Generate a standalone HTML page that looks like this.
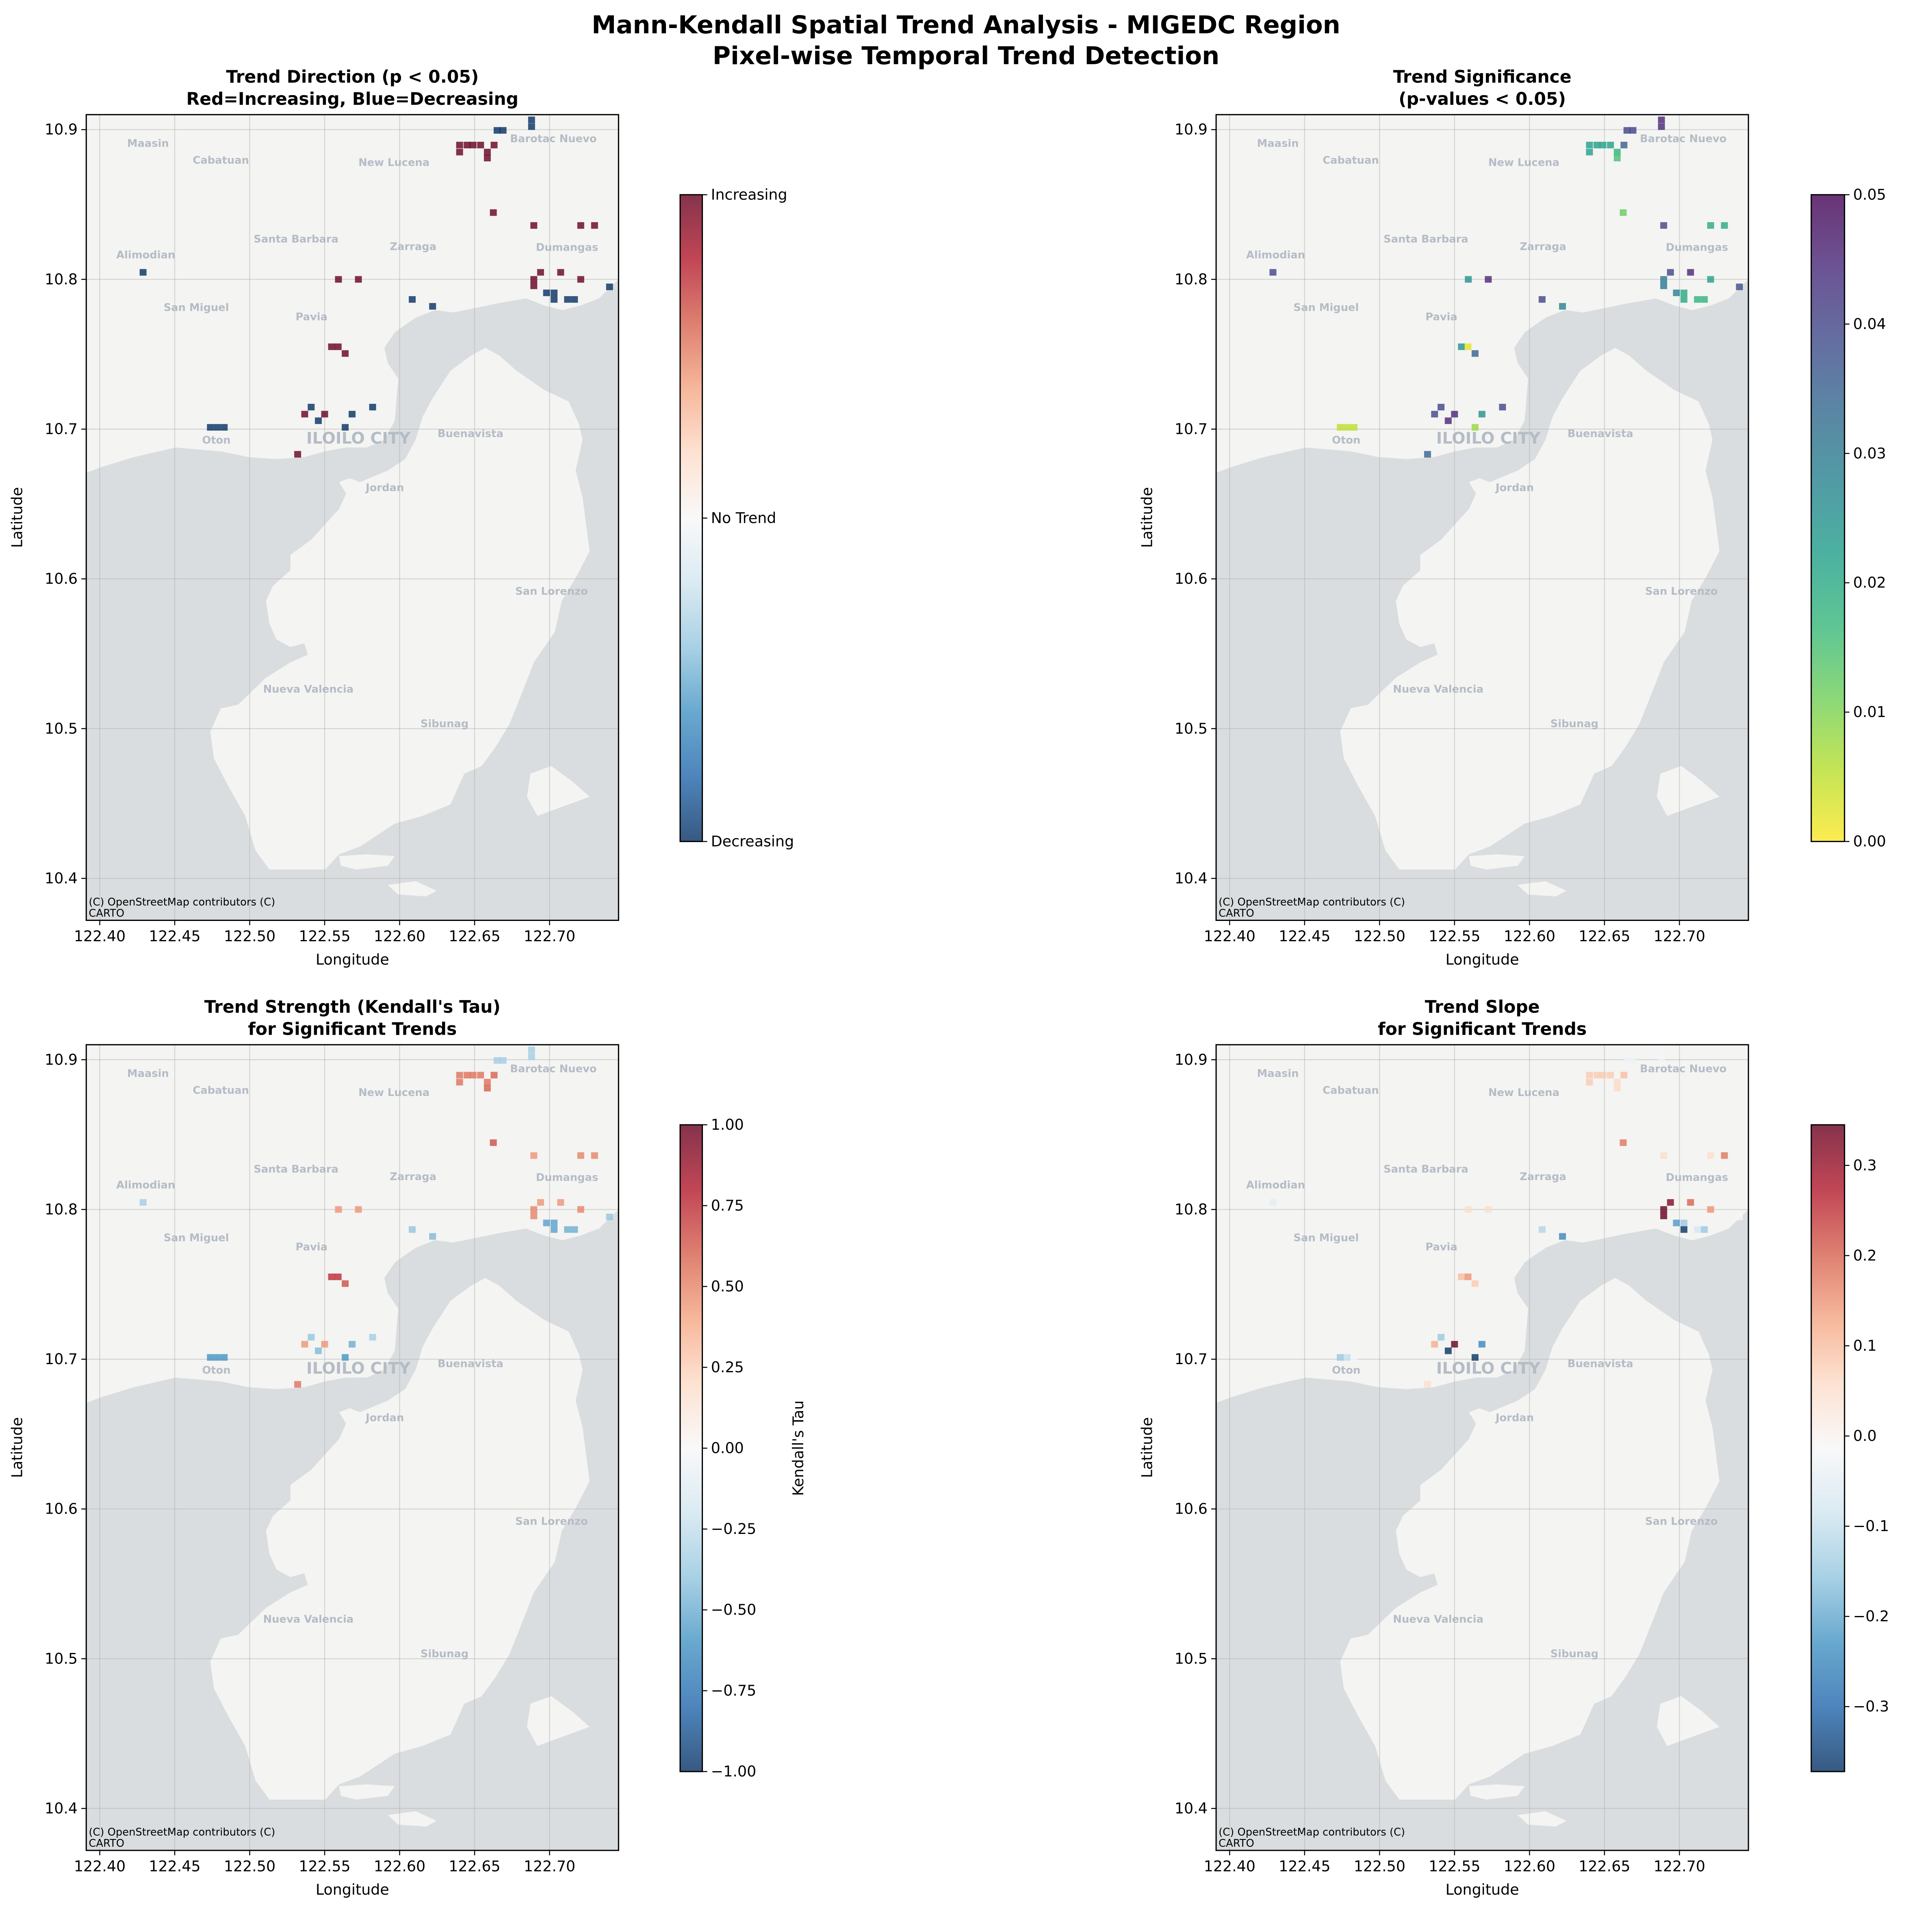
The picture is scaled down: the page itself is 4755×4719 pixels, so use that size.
<!DOCTYPE html>
<html><head><meta charset="utf-8"><style>
html,body{margin:0;padding:0;background:#fff;width:4755px;height:4719px;overflow:hidden;}
svg{display:block;font-family:"DejaVu Sans","Liberation Sans",sans-serif;}
</style></head><body>
<svg id="fig" xmlns="http://www.w3.org/2000/svg" width="4755" height="4719" viewBox="0 0 1568 1556" overflow="hidden">
<rect x="0" y="0" width="1568" height="1556" fill="#fff"/>
<text x="784" y="27" text-anchor="middle" font-size="20" font-weight="bold">Mann-Kendall Spatial Trend Analysis - MIGEDC Region</text>
<text x="784" y="52" text-anchor="middle" font-size="20" font-weight="bold">Pixel-wise Temporal Trend Detection</text>
</svg>
<script>
// ---- data ----
const lons=[122.688,122.688,122.665,122.669,122.4289,122.6084,122.622,122.698,122.703,122.703,122.712,122.7166,122.740,122.4738,122.4784,122.483,122.541,122.5458,122.5637,122.5683,122.582,
122.640,122.645,122.649,122.654,122.663,122.640,122.6585,122.6585,122.6625,122.6895,122.7208,122.730,122.694,122.6895,122.6895,122.7074,122.7208,122.5592,122.5725,122.5546,122.559,122.5637,122.5367,122.55,122.532];
const lats=[10.9065,10.902,10.8995,10.8995,10.8047,10.7866,10.782,10.791,10.791,10.7866,10.7866,10.7866,10.795,10.7012,10.7012,10.7012,10.7147,10.7056,10.7012,10.710,10.7147,
10.8897,10.8897,10.8897,10.8897,10.8897,10.885,10.885,10.881,10.8446,10.836,10.836,10.836,10.8047,10.800,10.7957,10.8047,10.800,10.800,10.800,10.755,10.755,10.7505,10.710,10.710,10.6832];
const dirs=[-1,-1,-1,-1,-1,-1,-1,-1,-1,-1,-1,-1,-1,-1,-1,-1,-1,-1,-1,-1,-1,
1,1,1,1,1,1,1,1,1,1,1,1,1,1,1,1,1,1,1,1,1,1,1,1,1];
const pvals=[0.045,0.045,0.04,0.04,0.04,0.04,0.028,0.028,0.02,0.02,0.018,0.018,0.038,0.005,0.005,0.005,0.04,0.045,0.008,0.025,0.04,
0.022,0.022,0.022,0.022,0.035,0.022,0.018,0.015,0.012,0.04,0.02,0.02,0.04,0.03,0.03,0.045,0.022,0.025,0.045,0.025,0.002,0.035,0.04,0.045,0.035];
const taus=[-0.35,-0.35,-0.35,-0.35,-0.35,-0.4,-0.45,-0.55,-0.55,-0.55,-0.5,-0.5,-0.4,-0.6,-0.6,-0.6,-0.4,-0.45,-0.6,-0.5,-0.35,
0.55,0.55,0.55,0.55,0.6,0.55,0.55,0.6,0.65,0.45,0.5,0.5,0.45,0.5,0.5,0.45,0.5,0.45,0.45,0.75,0.75,0.65,0.45,0.45,0.55];
const slopes=[-0.02,-0.02,-0.03,-0.03,-0.05,-0.12,-0.25,-0.22,-0.15,-0.37,-0.08,-0.15,-0.02,-0.15,-0.1,-0.02,-0.15,-0.37,-0.37,-0.25,-0.02,
0.08,0.08,0.08,0.08,0.1,0.08,0.06,0.06,0.18,0.05,0.05,0.18,0.32,0.35,0.35,0.2,0.15,0.05,0.05,0.1,0.15,0.08,0.12,0.35,0.05];
const xTicks=[122.40,122.45,122.50,122.55,122.60,122.65,122.70];
const yTicks=[10.4,10.5,10.6,10.7,10.8,10.9];
const pTicks=[0,0.01,0.02,0.03,0.04,0.05];
const tauTicks=[-1,-0.75,-0.5,-0.25,0,0.25,0.5,0.75,1];
const slopeTicks=[-0.3,-0.2,-0.1,0,0.1,0.2,0.3];

const NS='http://www.w3.org/2000/svg';
const svg=document.getElementById('fig');
function mk(tag,attrs,parent){const e=document.createElementNS(NS,tag);for(const k in attrs)e.setAttribute(k,attrs[k]);(parent||svg).appendChild(e);return e;}
function hex(c){return [parseInt(c.slice(1,3),16),parseInt(c.slice(3,5),16),parseInt(c.slice(5,7),16)];}
function interp(stops,t){t=Math.max(0,Math.min(1,t));const n=stops.length-1;const i=Math.min(n-1,Math.floor(t*n));const f=t*n-i;const a=hex(stops[i]),b=hex(stops[i+1]);return 'rgb('+a.map((v,k)=>Math.round(v+(b[k]-v)*f)).join(',')+')';}
const RdBu_r=['#053061','#2166ac','#4393c3','#92c5de','#d1e5f0','#f7f7f7','#fddbc7','#f4a582','#d6604d','#b2182b','#67001f'];
const viridis_r=['#fde725','#b5de2b','#6ece58','#35b779','#1f9e89','#26828e','#31688e','#3e4989','#482878','#440154'];

const LON0=122.391,LON1=122.746,LAT0=10.372,LAT1=10.910,W=432,H=654;
function aLL(p){return [122.40+(p[0]-24)/164.6*0.05, 10.9-(p[1]-8)/321*0.1];}
function bLL(p){return [122.40+(p[0]-52)/215.5*0.05, 10.7-(p[1]-272)/390.3*0.1];}
const coastB=[[-60,400],[0,390],[60,370],[150,345],[270,320],[400,330],[480,345],[560,350],[640,345],[700,330],[760,320],[820,320],[870,300],[900,250],[910,140],[880,100],[870,60],[900,20],[930,0]];
const coastA=[[720,410],[760,395],[800,400],[850,390],[900,380],[960,370],[1000,385],[1040,395],[1080,385],[1120,370],[1162,330],[1220,290]];
const islandB=[[1120,80],[1160,60],[1200,80],[1250,120],[1330,170],[1400,200],[1430,260],[1440,300],[1420,380],[1440,450],[1460,590],[1420,660],[1380,720],[1360,800],[1300,880],[1270,950],[1230,1040],[1190,1100],[1150,1150],[1100,1170],[1060,1250],[980,1280],[900,1300],[850,1330],[800,1360],[740,1380],[700,1420],[620,1420],[540,1420],[500,1370],[470,1280],[420,1200],[380,1130],[370,1060],[400,1000],[450,990],[530,920],[600,880],[650,860],[640,830],[600,840],[560,820],[540,780],[530,720],[550,680],[600,640],[600,600],[660,560],[700,520],[740,480],[760,440],[740,410],[770,400],[800,410],[880,380],[930,350],[960,300],[980,240],[1010,190],[1060,120]];
const isle2B=[[1290,1170],[1350,1150],[1410,1190],[1460,1230],[1400,1250],[1310,1280],[1280,1230]];
const isle3B=[[740,1385],[820,1380],[900,1385],[880,1410],[790,1420],[745,1410]];
const isle4B=[[880,1460],[960,1450],[1020,1475],[990,1490],[910,1485]];
const cities=[["Maasin",130,37,0],["Cabatuan",290,73,0],["New Lucena",670,78,0],["Barotac Nuevo",1020,27,0],["Santa Barbara",455,242,0],["Zarraga",712,258,0],["Alimodian",125,276,0],["Dumangas",1050,260,0],["San Miguel",236,389,0],["Pavia",489,409,0],["ILOILO CITY",592,673,1],["Oton",280,673,0],["Buenavista",838,659,0],["Jordan",650,775,0],["San Lorenzo",1016,997,0],["Nueva Valencia",482,1207,0],["Sibunag",781,1281,0]];

let clipN=0;
function panel(px,py,key,t1,t2){
  const g=mk('g',{});
  
  
  const X=lon=>px+(lon-LON0)/(LON1-LON0)*W;
  const Y=lat=>py+(LAT1-lat)/(LAT1-LAT0)*H;
  const cid='clip'+(clipN++);
  const cp=mk('clipPath',{id:cid},g);mk('rect',{x:px,y:py,width:W,height:H},cp);
  const inner=mk('g',{'clip-path':'url(#'+cid+')'},g);
  const bg=mk('rect',{x:px,y:py,width:W,height:H,fill:'#f4f4f2'},inner);
  
  
  const P=ll=>X(ll[0]).toFixed(1)+' '+Y(ll[1]).toFixed(1);
  const pathOf=lls=>lls.map((q,i)=>(i?'L':'M')+P(q)).join(' ')+'Z';
  const water=coastB.map(bLL).concat(coastA.map(aLL)).concat([[122.76,10.36],[122.38,10.36]]);
  const wat=mk('path',{d:pathOf(water),fill:'#dadddf'},inner);
  
  
  [islandB,isle2B,isle3B,isle4B].forEach((pts,k)=>{
    const isl=mk('path',{d:pathOf(pts.map(bLL)),fill:'#f4f4f2'},inner);
    
    
  });
  cities.forEach(c=>{
    const ll=aLL([c[1],c[2]]);
    const t=mk('text',{x:X(ll[0]),y:Y(ll[1])+3,'text-anchor':'middle','font-size':c[3]?13:8.5,'font-weight':'bold',fill:'#b4bcc6'},inner);
    
    
    t.textContent=c[0];
  });
  xTicks.forEach(v=>{const l=mk('line',{x1:X(v),x2:X(v),y1:py,y2:py+H,stroke:'#b0b0b0','stroke-opacity':0.45,'stroke-width':0.8},inner);});
  yTicks.forEach(v=>{const l=mk('line',{x1:px,x2:px+W,y1:Y(v),y2:Y(v),stroke:'#b0b0b0','stroke-opacity':0.45,'stroke-width':0.8},inner);});
  const cw=0.0046,ch=0.0044;
  for(let i=0;i<lons.length;i++){
    let col;
    if(key==='direction')col=interp(RdBu_r,(dirs[i]+1)/2);
    else if(key==='pvalue')col=interp(viridis_r,pvals[i]/0.05);
    else if(key==='tau')col=interp(RdBu_r,(taus[i]+1)/2);
    else col=interp(RdBu_r,(slopes[i]+0.372)/(0.345+0.372));
    const r=mk('rect',{x:X(lons[i]-cw/2),y:Y(lats[i]+ch/2),width:(cw/(LON1-LON0)*W),height:(ch/(LAT1-LAT0)*H),fill:col,'fill-opacity':0.8},inner);
    
    
  }
  const at=mk('text',{x:px+2,y:py+H-12,'font-size':8.5,fill:'#000'},inner);
  
  
  at.textContent='(C) OpenStreetMap contributors (C)';
  const at2=mk('text',{x:px+2,y:py+H-3,'font-size':8.5,fill:'#000'},inner);
  
  
  at2.textContent='CARTO';
  const fr=mk('rect',{x:px,y:py,width:W,height:H,fill:'none',stroke:'#000','stroke-width':1},g);
  
  
  xTicks.forEach(v=>{
    mk('line',{x1:X(v),x2:X(v),y1:py+H,y2:py+H+4,stroke:'#000','stroke-width':0.8},g);
    const t=mk('text',{x:X(v),y:py+H+17,'text-anchor':'middle','font-size':12},g);
    
    
    t.textContent=v.toFixed(2);
  });
  yTicks.forEach(v=>{
    mk('line',{x1:px-4,x2:px,y1:Y(v),y2:Y(v),stroke:'#000','stroke-width':0.8},g);
    const t=mk('text',{x:px-7,y:Y(v)+4,'text-anchor':'end','font-size':12},g);
    
    
    t.textContent=v.toFixed(1);
  });
  const xl=mk('text',{x:px+W/2,y:py+H+36,'text-anchor':'middle','font-size':12},g);
  
  
  xl.textContent='Longitude';
  const yl=mk('text',{x:0,y:0,'text-anchor':'middle','font-size':12,transform:'translate('+(px-52)+','+(py+H/2)+') rotate(-90)'},g);
  
  
  yl.textContent='Latitude';
  const ti1=mk('text',{x:px+W/2,y:py-26,'text-anchor':'middle','font-size':14,'font-weight':'bold'},g);
  
  
  ti1.textContent=t1;
  const ti2=mk('text',{x:px+W/2,y:py-8,'text-anchor':'middle','font-size':14,'font-weight':'bold'},g);
  
  
  ti2.textContent=t2;
}
function colorbar(cx,cy,cw,chh,stops,vmin,vmax,ticks,fmt,label,name){
  const g=mk('g',{});
  
  
  const id='grad'+name;
  const defs=mk('defs',{},g);
  const lg=mk('linearGradient',{id:id,x1:0,y1:1,x2:0,y2:0},defs);
  stops.forEach((c,i)=>mk('stop',{offset:i/(stops.length-1),'stop-color':c},lg));
  mk('rect',{x:cx,y:cy,width:cw,height:chh,fill:'url(#'+id+')','fill-opacity':0.8},g);
  mk('rect',{x:cx,y:cy,width:cw,height:chh,fill:'none',stroke:'#000','stroke-width':1},g);
  ticks.forEach((v,i)=>{
    const y=cy+chh-(v-vmin)/(vmax-vmin)*chh;
    mk('line',{x1:cx+cw,x2:cx+cw+4,y1:y,y2:y,stroke:'#000','stroke-width':0.8},g);
    const t=mk('text',{x:cx+cw+7,y:y+4,'font-size':12},g);
    
    
    t.textContent=fmt(v,i);
  });
  if(label){
    const t=mk('text',{x:0,y:0,'text-anchor':'middle','font-size':12,transform:'translate('+(cx+cw+82)+','+(cy+chh/2)+') rotate(-90)'},g);
    
    
    t.textContent=label;
  }
}
const mfmt=v=>(v<0?'\u2212':'')+Math.abs(v).toFixed(2);
panel(70,93,'direction','Trend Direction (p < 0.05)','Red=Increasing, Blue=Decreasing');
panel(987,93,'pvalue','Trend Significance','(p-values < 0.05)');
panel(70,848,'tau',"Trend Strength (Kendall's Tau)",'for Significant Trends');
panel(987,848,'slope','Trend Slope','for Significant Trends');
colorbar(552,158,18,525,RdBu_r,-1,1,[-1,0,1],(v,i)=>['Decreasing','No Trend','Increasing'][i],null,'colorbar-direction');
colorbar(1470,158,27,525,viridis_r,0,0.05,pTicks,v=>v.toFixed(2),'p-value','colorbar-pvalue');
colorbar(552,913,18,525,RdBu_r,-1,1,tauTicks,mfmt,"Kendall's Tau",'colorbar-tau');
colorbar(1470,913,27,525,RdBu_r,-0.372,0.345,slopeTicks,v=>(v<0?'\u2212':'')+Math.abs(v).toFixed(1),'Slope (Gi*/month)','colorbar-slope');
</script>
</body></html>
